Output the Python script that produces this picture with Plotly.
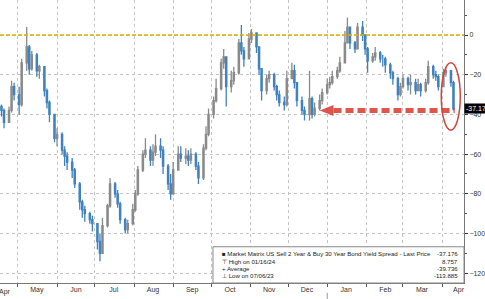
import pandas as pd
import plotly.graph_objects as go

# ---- data, one bar every 2 business days, ending 2024-04-10 ----
closes = [-38, -44, -38, -26, -30, -35, -14, -6, -17, -10,
          -18, -16, -28, -34, -40, -52, -50, -58, -61, -64,
          -68, -75, -84, -88, -90, -93, -95, -104, -110, -96,
          -86, -75, -80, -85, -93, -98, -95, -88, -80, -68,
          -60, -58, -63, -59, -56, -58, -66, -75, -80, -68,
          -60, -62, -61, -63, -60, -66, -72, -57, -50, -40,
          -33, -27, -14, -11, -26, -23, -19, -4, -8, -12,
          -2, 1, -6, -17, -28, -22, -20, -26, -30, -34,
          -35, -22, -18, -24, -33, -38, -40, -32, -40, -37,
          -33, -29, -25, -24, -21, -18, -14, -4, 4, -4,
          -7, 4, 0, -7, -13, -11, -9, -12, -12, -15,
          -19, -22, -30, -26, -22, -25, -24, -28, -25, -28,
          -24, -16, -20, -21, -26, -19, -18, -24, -37.176]
opens = [-36, -38, -44, -38, -26, -30, -35, -14, -6, -17,
         -10, -18, -16, -28, -34, -40, -52, -50, -58, -61,
         -64, -68, -75, -84, -88, -90, -93, -95, -104, -110,
         -96, -86, -75, -80, -85, -93, -98, -95, -88, -80,
         -68, -60, -58, -63, -59, -56, -58, -66, -75, -80,
         -68, -60, -62, -61, -63, -60, -66, -72, -57, -50,
         -40, -33, -27, -14, -11, -26, -23, -19, -4, -8,
         -12, -2, 1, -6, -17, -28, -22, -20, -26, -30,
         -34, -35, -22, -18, -24, -33, -38, -40, -32, -40,
         -37, -33, -29, -25, -24, -21, -18, -14, -4, 4,
         -4, -7, 4, 0, -7, -13, -11, -9, -12, -12,
         -15, -19, -22, -30, -26, -22, -25, -24, -28, -25,
         -28, -24, -16, -20, -21, -26, -19, -18, -24]
highs = [-35, -37, -36, -23, -24, -26, -12, 4, -5, -8,
         -9, -15, -16, -27, -33, -40, -47, -49, -56, -59,
         -62, -67, -74, -83, -86, -89, -91, -95, -100, -92,
         -85, -72, -74, -78, -84, -92, -93, -85, -78, -66,
         -58, -52, -56, -55, -50, -52, -56, -65, -70, -64,
         -56, -56, -57, -58, -57, -59, -64, -55, -46, -37,
         -31, -22, -12, -7, -12, -18, -16, -2, 5, -6,
         1, 3, -1, -8, -18, -20, -18, -19, -25, -28,
         -31, -18, -14, -15, -24, -31, -36, -18, -31, -34,
         -30, -27, -22, -21, -18, -16, -11, 2, 8.757, 0,
         -3, 6, 7, -1, -6, -9, -6, -8, -10, -11,
         -14, -18, -21, -24, -20, -21, -20, -22, -22, -24,
         -22, -13, -15, -18, -20, -17, -16, -18, -23]
lows = [-41, -47, -42, -39, -33, -40, -36, -18, -20, -18,
        -21, -22, -31, -37, -44, -54, -56, -60, -66, -68,
        -72, -77, -88, -92, -94, -95, -99, -108, -113.885, -108,
        -97, -87, -82, -87, -95, -100, -100, -96, -89, -81,
        -69, -62, -66, -66, -61, -62, -70, -78, -83, -80,
        -66, -64, -65, -66, -65, -68, -75, -73, -58, -51,
        -42, -34, -28, -17, -36, -29, -25, -20, -10, -16,
        -8, -4, -9, -20, -33, -30, -24, -28, -33, -36,
        -38, -36, -22, -27, -36, -40, -43, -43, -42, -41,
        -38, -35, -30, -27, -25, -22, -19, -14, -2, -7,
        -9, -5, -3, -10, -19, -14, -13, -14, -16, -19,
        -22, -25, -33, -31, -27, -28, -30, -30, -28, -31,
        -29, -25, -22, -23, -28, -26, -21, -26, -38]

month_starts = ["2023-05-01", "2023-06-01", "2023-07-01", "2023-08-01", "2023-09-01",
                "2023-10-01", "2023-11-01", "2023-12-01", "2024-01-01", "2024-02-01",
                "2024-03-01", "2024-04-01"]
label_dates = ["2023-05-16", "2023-06-16", "2023-07-16", "2023-08-16",
               "2023-09-16", "2023-10-16", "2023-11-16", "2023-12-16", "2024-01-16",
               "2024-02-16", "2024-03-16", "2024-04-14"]
label_text = ["May", "Jun", "Jul", "Aug", "Sep", "Oct", "Nov", "Dec",
              "Jan", "Feb", "Mar", "Apr"]
first_label = ("2023-04-21", "Apr")
y_ticks = [0, -20, -40, -60, -80, -100, -120]

last_price = -37.176
high_val = 8.757
avg_val = -39.736
low_val = -113.885

dates = pd.bdate_range(end="2024-04-10", periods=len(closes), freq="2B")

FONT = "Liberation Sans"
RED = "rgba(215,55,45,0.85)"

fig = go.Figure()
fig.add_trace(go.Candlestick(
    x=dates, open=opens, high=highs, low=lows, close=closes,
    increasing=dict(line=dict(color="#8a8a8a", width=1.3), fillcolor="#8a8a8a"),
    decreasing=dict(line=dict(color="#3f82c0", width=1.3), fillcolor="#3f82c0"),
    whiskerwidth=0, showlegend=False, hoverinfo="skip",
))

shapes = []
# zero reference line
shapes.append(dict(type="line", xref="paper", x0=0, x1=1, yref="y", y0=0, y1=0,
                   line=dict(color="#dcb000", width=1.5, dash="4px,2px"), layer="above"))
# red dashed arrow body
arrow_y = -38
shapes.append(dict(type="line", xref="x", yref="y", x0="2024-01-06", x1="2024-04-11",
                   y0=arrow_y, y1=arrow_y,
                   line=dict(color=RED, width=5, dash="8px,4px")))
# arrow head
shapes.append(dict(type="path", xref="x", yref="y",
                   path="M 2023-12-26,-38 L 2024-01-06,-35.2 L 2024-01-06,-40.8 Z",
                   fillcolor=RED, line=dict(width=0)))
# ellipse
shapes.append(dict(type="circle", xref="paper", yref="paper",
                   x0=0.951, x1=0.992, y0=0.54, y1=0.778,
                   line=dict(color="#d0453c", width=1.5)))
# legend box
shapes.append(dict(type="rect", xref="paper", yref="paper", x0=0.459, x1=1.0, y0=0.0, y1=0.128,
                   fillcolor="white", line=dict(color="#888888", width=1), layer="above"))
# year separator
shapes.append(dict(type="line", xref="x", yref="paper", x0="2024-01-01", x1="2024-01-01",
                   y0=-0.035, y1=-0.06, line=dict(color="#999999", width=1)))

annotations = []
fs = 6.1
left_lines = ["\u25a0 Market Matrix US Sell 2 Year & Buy 30 Year Bond Yield Spread - Last Price",
              "\u22a4 High on 01/16/24",
              "+ Average",
              "\u22a5 Low on 07/06/23"]
right_vals = [f"{last_price:.3f}", f"{high_val:.3f}", f"{avg_val:.3f}", f"{low_val:.3f}"]
line_y = [0.103, 0.077, 0.051, 0.025]
for t, v, yy in zip(left_lines, right_vals, line_y):
    annotations.append(dict(xref="paper", yref="paper", x=0.475, y=yy, text=t, showarrow=False,
                            xanchor="left", yanchor="middle",
                            font=dict(family=FONT, size=fs, color="#222222")))
    annotations.append(dict(xref="paper", yref="paper", x=0.992, y=yy, text=v, showarrow=False,
                            xanchor="right", yanchor="middle",
                            font=dict(family=FONT, size=fs, color="#222222")))
# last price tag
annotations.append(dict(xref="paper", yref="y", x=1.0, y=last_price, text=f"{last_price:.3f}",
                        showarrow=False, xanchor="left", yanchor="middle", bgcolor="black",
                        borderpad=1, font=dict(family=FONT, size=7, color="white")))
# first (partial) month label
annotations.append(dict(xref="x", yref="paper", x=first_label[0], y=-0.012, text=first_label[1],
                        showarrow=False, yanchor="top", font=dict(family=FONT, size=7, color="#333333")))
# year labels
annotations.append(dict(xref="x", yref="paper", x="2023-08-22", y=-0.045, text="2023",
                        showarrow=False, yanchor="top", font=dict(family=FONT, size=7, color="#333333")))
annotations.append(dict(xref="x", yref="paper", x="2024-02-20", y=-0.045, text="2024",
                        showarrow=False, yanchor="top", font=dict(family=FONT, size=7, color="#333333")))

fig.update_layout(
    width=485, height=299,
    margin=dict(l=0, r=18, t=0, b=16),
    paper_bgcolor="white", plot_bgcolor="white",
    shapes=shapes, annotations=annotations,
    font=dict(family=FONT, size=7, color="#333333"),
    xaxis=dict(
        type="date", range=["2023-04-16 20:00", "2024-04-18 08:00"],
        rangeslider=dict(visible=False),
        tickmode="array", tickvals=label_dates, ticktext=label_text,
        ticks="", showgrid=False, tickfont=dict(size=7, color="#333333"),
        minor=dict(tickmode="array", tickvals=month_starts, ticks="outside", ticklen=3,
                   tickcolor="#555555", showgrid=True, gridcolor="#c4c4c4",
                   griddash="dot", gridwidth=1),
        showline=True, linecolor="#777777", linewidth=1, zeroline=False,
    ),
    yaxis=dict(
        side="right", range=[-124.9, 17.63],
        tickmode="array", tickvals=y_ticks, ticks="outside", ticklen=3, tickcolor="#333333",
        showgrid=True, gridcolor="#c4c4c4", griddash="dot", gridwidth=1,
        minor=dict(dtick=10, ticks="outside", ticklen=2, tickcolor="#555555", showgrid=False),
        showline=True, linecolor="#777777", linewidth=1, zeroline=False,
        tickfont=dict(size=7, color="#333333"),
    ),
)

fig.write_html("out.html")
